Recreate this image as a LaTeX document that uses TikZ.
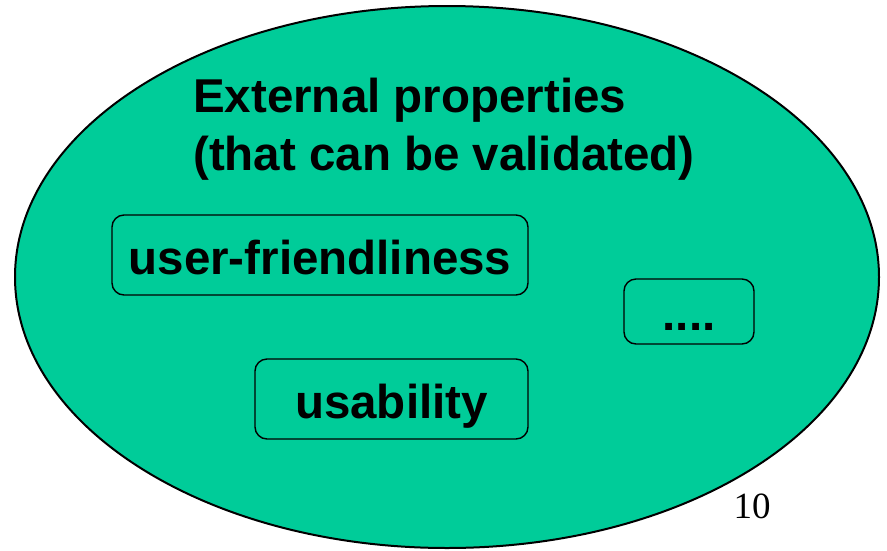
\documentclass[tikz,border=0pt]{standalone}
\usepackage{fontspec}
\setmainfont{Liberation Sans}
\newfontfamily\numfont{Liberation Serif}
\definecolor{setgreen}{RGB}{0,204,153}
\begin{document}
\begin{tikzpicture}[x=1pt,y=-1pt,
  propbox/.style={draw=black, line width=1.4pt, rounded corners=12pt,
    inner sep=0pt, text height=38pt, text depth=0pt,
    font=\fontsize{47.5}{57}\selectfont\bfseries},
  heading/.style={align=left, inner sep=0pt,
    font=\fontsize{47.5}{58}\selectfont\bfseries}]
  \useasboundingbox (0,0) rectangle (887,550);
  % the enclosing set
  \draw[fill=setgreen, line width=2pt] (447,277) ellipse [x radius=432, y radius=271];
  % heading (base anchor sits on the last line)
  \node[heading, anchor=base west] (title) at (193,170)
    {External properties\\(that can be validated)};
  % property boxes
  \node[propbox, minimum width=416pt, minimum height=80pt] (uf) at (320,255) {user-friendliness};
  \node[propbox, minimum width=273pt, minimum height=80pt] (us) at (391.5,399) {usability};
  \node[propbox, minimum width=130pt, minimum height=65pt] (more) at (689,311.5) {....};
  % page number
  \node[anchor=base, inner sep=0pt, font=\numfont\fontsize{37}{40}\selectfont] (page) at (752,518) {10};
\end{tikzpicture}
\end{document}
